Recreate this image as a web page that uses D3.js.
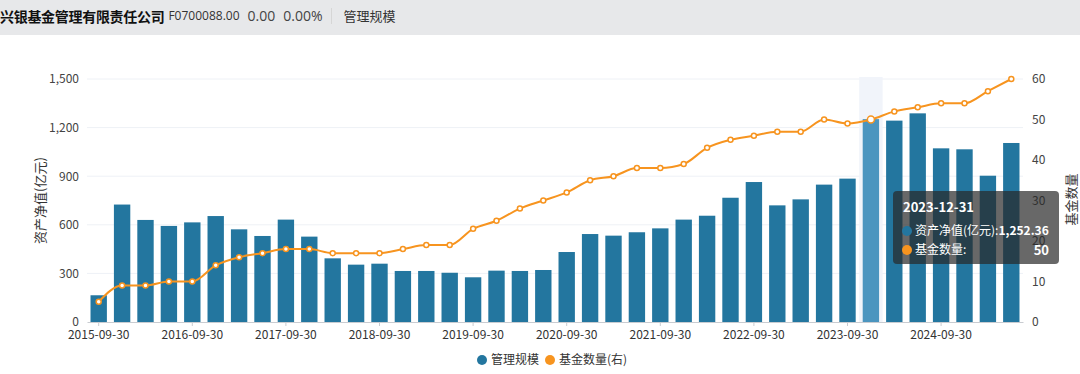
<!DOCTYPE html>
<html lang="zh">
<head>
<meta charset="UTF-8">
<script src="https://d3js.org/d3.v7.min.js"></script>
<title>管理规模</title>
<style>
    body { margin: 0; background: #fff; font-family: "Noto Sans CJK SC", "Noto Sans", sans-serif; }
    .header {
        height: 35px; background: #e7e8ea; display: flex; align-items: center;
        white-space: nowrap; font-size: 13px; color: #333; box-sizing: border-box; padding-bottom: 4px;
    }
    .header .name { font-weight: bold; font-size: 14px; color: #111; margin-right: 4px; letter-spacing: -0.3px; }
    .header .code { margin-right: 8px; font-family: "Open Sans", sans-serif; font-size: 12px; }
    .header .num { margin-right: 8px; color: #444; font-family: "Open Sans", sans-serif; font-size: 14px; }
    .header .sep { width: 1px; height: 16px; background: #d6d6d6; margin: 0 11px 0 1px; }
    #chart { position: absolute; left: 0; top: 35px; }
</style>
</head>
<body>
<div class="header">
    <span class="name">兴银基金管理有限责任公司</span>
    <span class="code">F0700088.00</span>
    <span class="num">0.00</span>
    <span class="num">0.00%</span>
    <span class="sep"></span>
    <span>管理规模</span>
</div>
<div id="chart"></div>
<script>
// quarter-end dates, 2015-09-30 .. 2025-06-30
const dates = [
    "2015-09-30", "2015-12-31", "2016-03-31", "2016-06-30", "2016-09-30", "2016-12-31",
    "2017-03-31", "2017-06-30", "2017-09-30", "2017-12-31", "2018-03-31", "2018-06-30",
    "2018-09-30", "2018-12-31", "2019-03-31", "2019-06-30", "2019-09-30", "2019-12-31",
    "2020-03-31", "2020-06-30", "2020-09-30", "2020-12-31", "2021-03-31", "2021-06-30",
    "2021-09-30", "2021-12-31", "2022-03-31", "2022-06-30", "2022-09-30", "2022-12-31",
    "2023-03-31", "2023-06-30", "2023-09-30", "2023-12-31", "2024-03-31", "2024-06-30",
    "2024-09-30", "2024-12-31", "2025-03-31", "2025-06-30"
];
// 资产净值(亿元)
const netAssets = [
    165, 725, 630, 593, 615, 654, 572, 531, 632, 527, 393, 354,
    360, 315, 315, 304, 276, 317, 315, 321, 432, 543, 533, 554,
    578, 632, 656, 767, 864, 720, 757, 848, 885, 1252.36, 1243, 1288,
    1072, 1066, 903, 1105
];
// 基金数量
const fundCount = [
    5, 9, 9, 10, 10, 14, 16, 17, 18, 18, 17, 17,
    17, 18, 19, 19, 23, 25, 28, 30, 32, 35, 36, 38,
    38, 39, 43, 45, 46, 47, 47, 50, 49, 50, 52, 53,
    54, 54, 57, 60
];
const leftTicks = [0, 300, 600, 900, 1200, 1500];
const rightTicks = [0, 10, 20, 30, 40, 50, 60];
const hoverIndex = 33;

const W = 1080, H = 339;
const margin = { top: 44, right: 57, bottom: 52, left: 87 };
const innerW = W - margin.left - margin.right;
const innerH = H - margin.top - margin.bottom;

const blue = "#23769f", blueHi = "#4b95bf", orange = "#f7941f";
const font = "'Noto Sans CJK SC', 'Noto Sans', sans-serif";

const svg = d3.select("#chart").append("svg")
    .attr("width", W).attr("height", H)
    .style("font-family", font);

const g = svg.append("g").attr("transform", `translate(${margin.left},${margin.top})`);

const x = d3.scaleBand().domain(dates).range([0, innerW]).paddingInner(0.3).paddingOuter(0.15);
const y = d3.scaleLinear().domain([0, 1500]).range([innerH, 0]);
const y2 = d3.scaleLinear().domain([0, 60]).range([innerH, 0]);

// grid lines
g.append("g").selectAll("line").data(leftTicks.slice(1)).join("line")
    .attr("x1", 0).attr("x2", innerW)
    .attr("y1", d => y(d)).attr("y2", d => y(d))
    .attr("stroke", "#eef1f6").attr("stroke-width", 1);

// hover shadow
const step = x.step();
g.append("rect")
    .attr("x", x(dates[hoverIndex]) - (step - x.bandwidth()) / 2)
    .attr("y", -2).attr("width", step).attr("height", innerH + 2)
    .attr("fill", "#f1f4fa");

// bars
g.append("g").selectAll("rect").data(netAssets).join("rect")
    .attr("x", (d, i) => x(dates[i]))
    .attr("y", d => y(d))
    .attr("width", x.bandwidth())
    .attr("height", d => innerH - y(d))
    .attr("fill", (d, i) => i === hoverIndex ? blueHi : blue);

// x axis
const xAxis = g.append("g").attr("transform", `translate(0,${innerH})`)
    .call(d3.axisBottom(x).tickValues(dates.filter((d, i) => i % 4 === 0)).tickSize(4).tickSizeOuter(0));
xAxis.select(".domain").attr("stroke", "#c9ccd1");
xAxis.selectAll(".tick line").attr("stroke", "#c9ccd1");
xAxis.selectAll("text").attr("fill", "#333").attr("font-size", 12).attr("dy", "0.85em")
    .style("font-family", font);

// left axis
const yAxis = g.append("g")
    .call(d3.axisLeft(y).tickValues(leftTicks).tickSize(0).tickPadding(8).tickFormat(d3.format(",")));
yAxis.select(".domain").remove();
yAxis.selectAll("text").attr("fill", "#444").attr("font-size", 12).style("font-family", font);

// right axis
const y2Axis = g.append("g").attr("transform", `translate(${innerW},0)`)
    .call(d3.axisRight(y2).tickValues(rightTicks).tickSize(0).tickPadding(9));
y2Axis.select(".domain").remove();
y2Axis.selectAll("text").attr("fill", "#444").attr("font-size", 12).style("font-family", font);

// axis titles
svg.append("text")
    .attr("transform", `translate(45,${margin.top + innerH / 2}) rotate(-90)`)
    .attr("text-anchor", "middle").attr("fill", "#333").attr("font-size", 13)
    .text("资产净值(亿元)");
svg.append("text")
    .attr("transform", `translate(1076,${margin.top + innerH / 2 - 1}) rotate(-90)`)
    .attr("text-anchor", "middle").attr("fill", "#333").attr("font-size", 13)
    .text("基金数量");

// line
const cx = i => x(dates[i]) + x.bandwidth() / 2;
const line = d3.line().x((d, i) => cx(i)).y(d => y2(d)).curve(d3.curveMonotoneX);
g.append("path").datum(fundCount)
    .attr("fill", "none").attr("stroke", orange).attr("stroke-width", 2)
    .attr("d", line);
g.append("g").selectAll("circle").data(fundCount).join("circle")
    .attr("cx", (d, i) => cx(i)).attr("cy", d => y2(d))
    .attr("r", (d, i) => i === hoverIndex ? 3.5 : 2.5)
    .attr("fill", "#fff").attr("stroke", orange).attr("stroke-width", 1.5);

// legend
const legend = svg.append("g").attr("transform", `translate(0,${H - 14})`);
legend.append("circle").attr("cx", 482).attr("cy", 0).attr("r", 5).attr("fill", blue);
legend.append("text").attr("x", 491).attr("y", 0).attr("dy", "0.35em")
    .attr("font-size", 12).attr("fill", "#333").text("管理规模");
legend.append("circle").attr("cx", 550).attr("cy", 0).attr("r", 5).attr("fill", orange);
legend.append("text").attr("x", 559).attr("y", 0).attr("dy", "0.35em")
    .attr("font-size", 12).attr("fill", "#333").text("基金数量(右)");

// tooltip
const tip = svg.append("g").attr("transform", `translate(893,${191 - 35})`);
tip.append("rect").attr("width", 166).attr("height", 73).attr("rx", 4)
    .attr("fill", "rgba(40,40,40,0.7)");
tip.append("text").attr("x", 10).attr("y", 21).attr("fill", "#fff")
    .attr("font-size", 13).attr("font-weight", "bold").text(dates[hoverIndex]);
tip.append("circle").attr("cx", 14).attr("cy", 40).attr("r", 5).attr("fill", blue);
tip.append("text").attr("x", 22).attr("y", 40).attr("dy", "0.35em").attr("fill", "#fff")
    .attr("font-size", 12)
    .text("资产净值(亿元):")
    .append("tspan").attr("font-weight", "bold").text(d3.format(",.2f")(netAssets[hoverIndex]));
tip.append("circle").attr("cx", 14).attr("cy", 59).attr("r", 5).attr("fill", orange);
tip.append("text").attr("x", 22).attr("y", 59).attr("dy", "0.35em").attr("fill", "#fff")
    .attr("font-size", 12).text("基金数量:");
tip.append("text").attr("x", 156).attr("y", 59).attr("dy", "0.35em").attr("fill", "#fff")
    .attr("font-size", 13).attr("font-weight", "bold").attr("text-anchor", "end")
    .text(fundCount[hoverIndex]);
</script>
</body>
</html>
